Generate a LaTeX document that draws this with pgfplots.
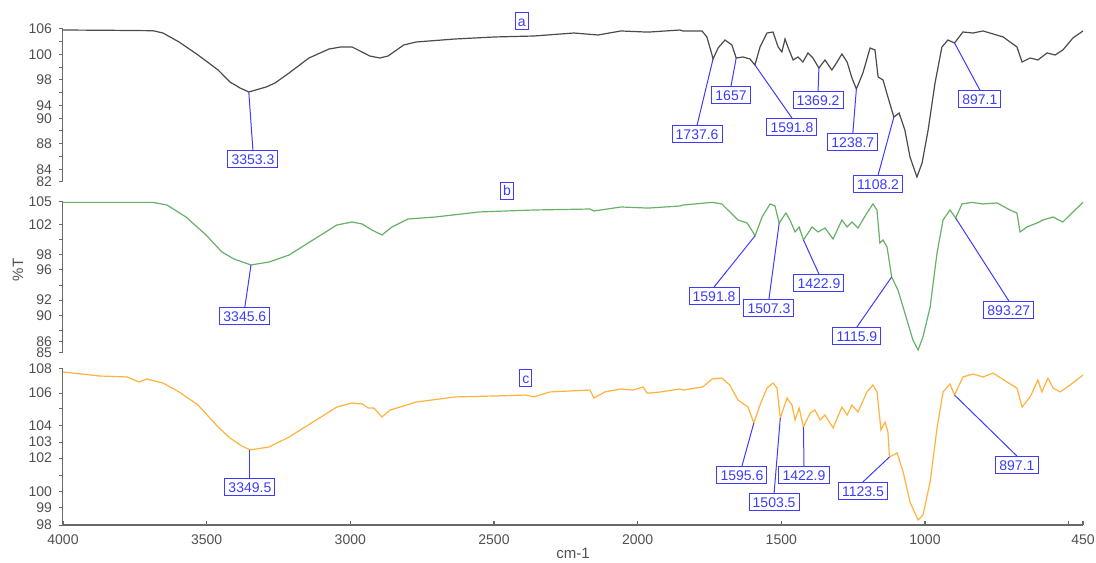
\documentclass[border=0pt]{standalone}
\usepackage{fontspec}
\setmainfont{Liberation Sans}
\usepackage{pgfplots}
\pgfplotsset{compat=1.18}
\definecolor{specA}{RGB}{75,75,75}
\definecolor{specB}{RGB}{104,176,104}
\definecolor{specC}{RGB}{255,178,60}
\definecolor{annblue}{RGB}{60,60,255}
\definecolor{axgray}{RGB}{105,105,105}
\definecolor{tickgray}{RGB}{80,80,80}
\pgfplotsset{
  spec/.style={
    scale only axis, width=510pt, x dir=reverse, xmin=450, xmax=4000,
    clip=false, axis y line*=left,
    tick align=outside, major tick length=2pt,
    axis line style={axgray, line width=0.5pt},
    tick style={axgray, line width=0.5pt},
    tick label style={font=\fontsize{7}{8}\selectfont, text=tickgray},
  },
}
\tikzset{
  annbox/.style={draw=annblue, fill=white, text=annblue, font=\fontsize{7}{8}\selectfont,
    inner xsep=1.8pt, inner ysep=1.8pt, line width=0.5pt, text height=5pt, text depth=0pt},
  annline/.style={annblue, line width=0.5pt},
}
\begin{document}
\begin{tikzpicture}
\useasboundingbox (0,0) rectangle (548pt,281pt);
% ---------------- panel a
\begin{axis}[spec, at={(31.5pt,190pt)}, anchor=south west, height=76.5pt,
  ymin=82, ymax=106, axis x line=none,
  ytick={82,84,86,88,90,92,94,96,98,100,102,104,106},
  yticklabels={82,84,,88,,90,94,,98,,100,,106}]
\addplot[specA, line width=0.6pt, mark=none] coordinates {
(4000,105.84) (3850,105.80) (3687,105.73) (3652,105.37) (3596,103.96) (3530,101.92)
(3460,99.57) (3419,97.69) (3384,96.75) (3353.3,96.12) (3293,96.9) (3262,97.53)
(3213,99.1) (3144,101.45) (3074,102.86) (3033,103.18) (2994,103.18) (2966,102.55)
(2932,101.76) (2897,101.45) (2869,101.76) (2814,103.49) (2771,103.96) (2636,104.43)
(2497,104.75) (2361,104.9) (2222,105.37) (2138,105.06) (2058,105.69) (1975,105.53)
(1957,105.53) (1853,105.84) (1842,105.69) (1776,105.69) (1759,104.75) (1741,101.92)
(1737.6,101.29) (1720,103.02) (1696,104.27) (1672,103.49) (1657,101.45) (1633,101.61)
(1609,101.29) (1591.8,100.35) (1574,103.18) (1550,105.37) (1529,105.53) (1511,103.18)
(1498,102.39) (1487,104.43) (1477,103.18) (1459,101.14) (1442,101.61) (1425,100.82)
(1407,102.24) (1390,101.45) (1369.2,99.88) (1348,101.14) (1324,99.57) (1306,100.82)
(1289,102.08) (1271,100.82) (1254,98.31) (1238.7,96.59) (1216,99.10) (1191,103.02)
(1174,102.71) (1163,98.47) (1146,98.0) (1129,95.33) (1108.2,92.20) (1090,92.82)
(1070,90.16) (1052,85.92) (1028,82.78) (1010,84.98) (989,90.16) (965,97.53)
(941,103.18) (920,104.27) (897.1,103.80) (868,105.53) (833,105.37) (798,105.69)
(728,104.75) (680,103.18) (662,100.82) (634,101.45) (607,101.14) (575,102.24)
(547,101.92) (520,102.71) (485,104.59) (450,105.69)
};
\draw[annline] (axis cs:3353.3,96.12) -- (axis cs:3339,87.0) node[annbox, anchor=north] {3353.3};
\draw[annline] (axis cs:1737.6,101.29) -- (axis cs:1793,90.94) node[annbox, anchor=north] {1737.6};
\draw[annline] (axis cs:1657,101.45) -- (axis cs:1675,97.06) node[annbox, anchor=north] {1657};
\draw[annline] (axis cs:1591.8,100.35) -- (axis cs:1463,92.04) node[annbox, anchor=north] {1591.8};
\draw[annline] (axis cs:1369.2,99.88) -- (axis cs:1372,96.27) node[annbox, anchor=north] {1369.2};
\draw[annline] (axis cs:1238.7,96.59) -- (axis cs:1251,89.69) node[annbox, anchor=north] {1238.7};
\draw[annline] (axis cs:1108.2,92.20) -- (axis cs:1163,83.1) node[annbox, anchor=north] {1108.2};
\draw[annline] (axis cs:897.1,103.80) -- (axis cs:809,96.43) node[annbox, anchor=north] {897.1};
\node[annbox, inner xsep=1.2pt] at (axis cs:2403,107.25) {a};
\end{axis}
% ---------------- panel b
\begin{axis}[spec, at={(31.5pt,104.5pt)}, anchor=south west, height=75.5pt,
  ymin=85, ymax=105, axis x line=none,
  ytick={85,86.5,88,90,92,94,96,98,100,102,105},
  yticklabels={85,86,,90,92,,96,98,,102,105}]
\addplot[specB, line width=0.6pt, mark=none] coordinates {
(4000,104.95) (3687,104.95) (3638,104.6) (3572,103.01) (3502,100.63) (3447,98.38)
(3405,97.45) (3345.6,96.66) (3283,97.05) (3213,97.98) (3130,99.97) (3047,101.95)
(2994,102.35) (2959,102.09) (2925,101.29) (2890,100.63) (2855,101.69) (2799,102.75)
(2705,103.01) (2552,103.68) (2361,103.94) (2166,104.07) (2152,103.81) (2058,104.34)
(1974,104.21) (1957,104.21) (1853,104.47) (1842,104.6) (1741,104.95) (1707,104.74)
(1679,103.68) (1651,102.62) (1619,102.22) (1599,101.03) (1591.8,100.5) (1567,103.01)
(1539,104.74) (1522,104.47) (1507.3,102.22) (1484,103.54) (1470,102.62) (1452,101.03)
(1438,101.69) (1422.9,99.97) (1393,101.69) (1372,101.03) (1348,101.56) (1320,100.10)
(1289,102.62) (1271,101.69) (1254,102.35) (1233,101.56) (1202,103.54) (1181,104.74)
(1167,103.94) (1157,99.57) (1146,99.97) (1132,99.04) (1115.9,95.07) (1094,93.34)
(1070,90.30) (1042,86.72) (1024,85.40) (1007,87.12) (982,91.09) (958,98.25)
(937,102.62) (913,103.94) (893.27,102.88) (871,104.74) (836,104.95) (798,104.74)
(749,104.87) (704,103.94) (680,103.54) (669,101.03) (645,101.69) (610,102.22)
(589,102.62) (554,103.01) (520,102.35) (485,103.68) (450,104.95)
};
\draw[annline] (axis cs:3345.6,96.66) -- (axis cs:3367,91.09) node[annbox, anchor=north] {3345.6};
\draw[annline] (axis cs:1591.8,100.5) -- (axis cs:1734,93.74) node[annbox, anchor=north] {1591.8};
\draw[annline] (axis cs:1507.3,102.22) -- (axis cs:1543,92.15) node[annbox, anchor=north] {1507.3};
\draw[annline] (axis cs:1422.9,99.97) -- (axis cs:1369,95.46) node[annbox, anchor=north] {1422.9};
\draw[annline] (axis cs:1115.9,95.07) -- (axis cs:1237,88.44) node[annbox, anchor=north] {1115.9};
\draw[annline] (axis cs:893.27,102.88) -- (axis cs:708,91.89) node[annbox, anchor=north] {893.27};
\node[annbox, inner xsep=1.2pt] at (axis cs:2455,106.46) {b};
\end{axis}
% ---------------- panel c
\begin{axis}[spec, at={(31.5pt,18.5pt)}, anchor=south west, height=78pt,
  ymin=98, ymax=108, axis x line*=bottom,
  x axis line style={line width=1pt},
  xtick=\empty,
  ytick={98,99.09,100.12,101.2,102.29,103.32,104.35,105.44,106.46,108},
  yticklabels={98,99,100,,102,103,104,,106,108}]
\addplot[specC, line width=0.6pt, mark=none] coordinates {
(4000,107.81) (3871,107.55) (3777,107.49) (3735,107.17) (3708,107.36) (3652,107.10)
(3596,106.53) (3530,105.69) (3460,104.28) (3419,103.58) (3377,103.06) (3349.5,102.81)
(3283,103.0) (3213,103.64) (3130,104.60) (3047,105.56) (2994,105.82) (2959,105.76)
(2938,105.5) (2918,105.5) (2890,104.92) (2862,105.37) (2827,105.56) (2771,105.88)
(2636,106.21) (2497,106.27) (2389,106.33) (2361,106.21) (2305,106.53) (2166,106.65)
(2152,106.14) (2114,106.53) (2058,106.72) (2016,106.65) (1981,106.85) (1967,106.46)
(1957,106.46) (1919,106.53) (1853,106.72) (1842,106.65) (1773,106.85) (1741,107.36)
(1707,107.42) (1679,106.97) (1651,106.01) (1616,105.56) (1595.6,104.54) (1574,105.69)
(1550,106.78) (1529,107.10) (1515,106.78) (1503.5,104.86) (1480,106.14) (1463,105.69)
(1452,104.73) (1438,105.5) (1422.9,104.28) (1400,105.18) (1383,105.37) (1365,104.73)
(1348,105.05) (1320,104.22) (1289,105.56) (1271,105.05) (1254,105.69) (1233,105.24)
(1202,106.53) (1181,106.97) (1167,106.53) (1153,104.09) (1139,104.60) (1129,103.96)
(1123.5,102.36) (1097,102.62) (1076,101.40) (1052,99.47) (1024,98.32) (1007,98.64)
(982,100.76) (958,104.22) (937,106.53) (913,107.04) (897.1,106.33) (868,107.49)
(833,107.68) (798,107.49) (763,107.74) (715,107.17) (680,106.78) (662,105.56)
(634,106.21) (607,107.29) (593,106.53) (572,107.42) (554,106.78) (530,106.53)
(495,106.97) (450,107.62)
};
\draw[annline] (axis cs:3349.5,102.81) -- (axis cs:3349.5,101.01) node[annbox, anchor=north] {3349.5};
\draw[annline] (axis cs:1595.6,104.54) -- (axis cs:1637,101.78) node[annbox, anchor=north] {1595.6};
\draw[annline] (axis cs:1503.5,104.86) -- (axis cs:1525,100.05) node[annbox, anchor=north] {1503.5};
\draw[annline] (axis cs:1422.9,104.28) -- (axis cs:1421,101.78) node[annbox, anchor=north] {1422.9};
\draw[annline] (axis cs:1123.5,102.36) -- (axis cs:1216,100.76) node[annbox, anchor=north] {1123.5};
\draw[annline] (axis cs:897.1,106.33) -- (axis cs:680,102.42) node[annbox, anchor=north] {897.1};
\node[annbox, inner xsep=1.2pt] at (axis cs:2389,107.42) {c};
\end{axis}
% ---------------- inward x ticks and labels of the bottom axis
\begin{axis}[scale only axis, width=510pt, height=78pt, at={(31.5pt,18.5pt)}, anchor=south west,
  x dir=reverse, xmin=450, xmax=4000, ymin=0, ymax=1,
  axis x line*=bottom, axis y line=none, x axis line style={draw=none},
  tick align=inside, major tick length=2.2pt,
  tick style={axgray, line width=0.6pt},
  tick label style={font=\fontsize{7}{8}\selectfont, text=tickgray},
  xticklabel style={yshift=-1.5pt},
  xtick={4000,3500,3000,2500,2000,1500,1000,500,450},
  xticklabels={4000,3500,3000,2500,2000,1500,1000,,450}]
\end{axis}
\node[rotate=90, text=tickgray, font=\fontsize{7.5}{9}\selectfont] at (9pt,146pt) {\%T};
\node[text=tickgray, font=\fontsize{7.5}{9}\selectfont] at (286.5pt,4.5pt) {cm-1};
\end{tikzpicture}
\end{document}
